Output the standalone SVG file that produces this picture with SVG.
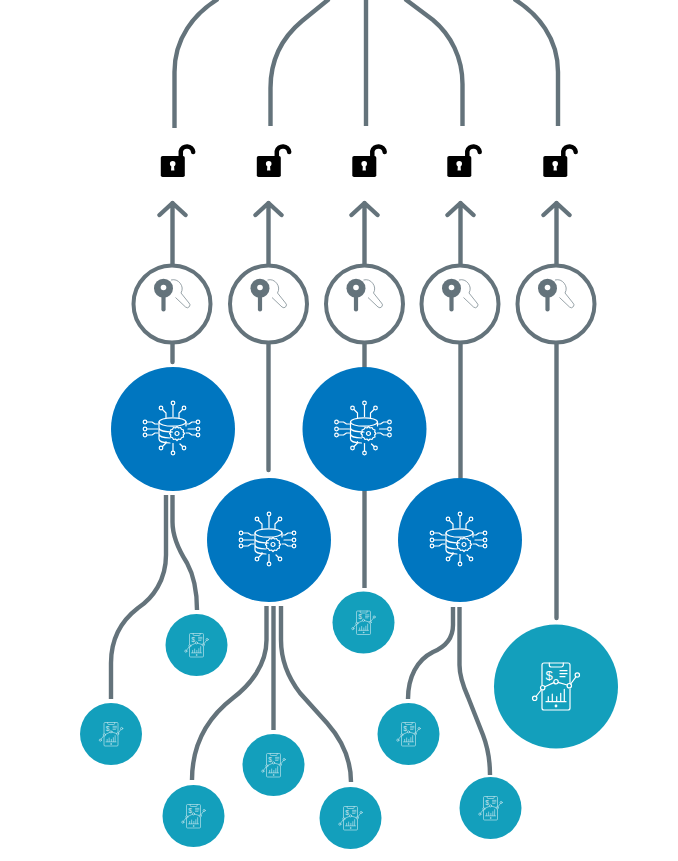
<svg xmlns="http://www.w3.org/2000/svg" width="678" height="861" viewBox="0 0 678 861">
<style>
.c{fill:none;stroke:#64737b;stroke-width:4.400}
.a{stroke-linecap:round;stroke-linejoin:round}
.key{fill:#fff;stroke:#64737b;stroke-width:4}
.blue{fill:#0076c0}
.teal{fill:#139fbc}
.ic{fill:none;stroke:#fff;stroke-width:1.200;stroke-linecap:round;stroke-linejoin:round}
.ics{fill:none;stroke:#fff;stroke-width:1.300;stroke-linecap:round;stroke-linejoin:round;opacity:.75}
.d{font-family:"Liberation Sans",Arial,sans-serif;font-size:13px;fill:#fff;text-anchor:middle;stroke:none}
</style>
<defs>
<g id="lock-i">
<rect x="160.800" y="156" width="24" height="21" rx="1.800" fill="#000"/>
<path d="M180.800 157V151.300a6.300 6.300 0 0 1 12.400 0.800" fill="none" stroke="#000" stroke-width="4.500" stroke-linecap="round"/>
<circle cx="172.700" cy="163.800" r="2.800" fill="#fff"/>
<path d="M171.500 164.500h2.400l.5 6h-3.400z" fill="#fff"/>
</g>
<g id="key-i">
<path d="M-1 -24A9 9 0 0 1 9 -11L17 -1A2.600 2.600 0 0 1 13.500 3L3.500 -6.500" fill="none" stroke="#7d8b92" stroke-width=".8"/>
<circle cx="-8.500" cy="-15.700" r="9.500" fill="#64737b"/>
<circle cx="-8.500" cy="-16.500" r="2.800" fill="#fff"/>
<path d="M-8.500 -8V5.500" stroke="#64737b" stroke-width="4.200" stroke-linecap="round" fill="none"/>
</g>
<g id="db-i" class="ic">
<ellipse cx="-.5" cy="-7" rx="13.500" ry="4.200"/>
<path d="M-14 -7V10c0 2.500 5 4 11 4M13 -7V-3M-14 -1c0 2.500 6 4 13.500 4M-14 5c0 2.500 5 4 11 4"/>
<path d="M4 -2.500l1.500 1.500 2-.5 1 1.800 2 .7-.3 2 1.300 1.500-1.300 1.500.3 2-2 .7-1 1.800-2-.5L4 11.500 2.500 10l-2 .5-1-1.800-2-.7.300-2L-3.500 4.500-2.200 3l-.3-2 2-.7 1-1.800 2 .5z"/>
<circle cx="4" cy="4.500" r="2"/>
<circle cx="0" cy="-26" r="1.800"/><path d="M0 -24V-12.500"/>
<circle cx="-12" cy="-21" r="1.800"/><path d="M-10.500 -19.500L-7 -16V-11.500"/>
<circle cx="11" cy="-21" r="1.800"/><path d="M9.500 -19.500L6 -16V-11.500"/>
<circle cx="-28" cy="-7" r="1.800"/><path d="M-26 -7H-21L-18 -5H-15"/>
<circle cx="-28" cy="0" r="1.800"/><path d="M-26 0H-15"/>
<circle cx="-28" cy="6" r="1.800"/><path d="M-26 6H-21L-18 4H-15"/>
<circle cx="25" cy="-7" r="1.800"/><path d="M23 -7H19L16 -5H14"/>
<circle cx="25" cy="0" r="1.800"/><path d="M23 0H15"/>
<circle cx="25" cy="6" r="1.800"/><path d="M23 6H19L16 4H13"/>
<circle cx="-12" cy="19" r="1.800"/><path d="M-10.500 17.500L-7 14V12.500"/>
<circle cx="0" cy="24" r="1.800"/><path d="M0 22V14.500"/>
<circle cx="11" cy="19" r="1.800"/><path d="M9.500 17.500L7 15"/>
</g>
<g id="ph-i">
<path d="M-14 -1V-21a2 2 0 0 1 2 -2H12a2 2 0 0 1 2 2V-3M14 3V22a2 2 0 0 1 -2 2H-12a2 2 0 0 1 -2 -2V4.500"/>
<path d="M-6.700 -23v2a2 2 0 0 0 2 2H5.300a2 2 0 0 0 2 -2v-2"/>
<path d="M4 -15.300H11M4 -12.300H11M4 -9.300H9"/>
<path d="M-20 10.500L-14.500 3.500M-11.200 .8L-2.100 -3.400M2.100 -3.700L11.200 -1M14.700 -2L19.900 -9.200"/>
<circle cx="-21.300" cy="12.300" r="2.200"/><circle cx="-13.300" cy="1.700" r="2.200"/><circle cx="0" cy="-4.300" r="2.200"/><circle cx="13.300" cy="-.3" r="2.200"/><circle cx="21.300" cy="-11" r="2.200"/>
<path d="M-10 15.700H10M-7.700 15V10.700M-3.700 15V8M.7 15V10.700M4.700 15V7.300M8.300 15V3.300"/>
<circle cx="0" cy="20" r=".8"/>
</g>
</defs>
<g id="connectors">
<path class="c" d="M174.500 128V72C174.500 38 194 14 218 -1"/>
<path class="c" d="M270.500 126V88C270.500 58 284 36 302 21L329 -1"/>
<path class="c" d="M366 126V-1"/>
<path class="c" d="M462.500 126V84C462.500 58 451 35 433 20L405 -1"/>
<path class="c" d="M558 126V72C558 38 538 14 514 -1"/>
<path class="c a" d="M172.500 362V203M159.500 215L172.500 203L185.500 215"/>
<path class="c a" d="M268.500 470V203M255.500 215L268.500 203L281.500 215"/>
<path class="c a" d="M364.500 370V203M351.500 215L364.500 203L377.500 215"/>
<path class="c a" d="M460.500 478V203M447.500 215L460.500 203L473.500 215"/>
<path class="c a" d="M556.500 618V203M543.500 215L556.500 203L569.500 215"/>
<path class="c" d="M364.500 490V588"/>
<path class="c" d="M166 495V555C166 580 153 598 138 608C121 621 111 640 111 663V699"/>
<path class="c" d="M172.500 495V522C172.500 538 180 552 187 563C193 574 197 588 197 610"/>
<path class="c" d="M266.500 606V640C266.500 665 250 685 233 698C207 718 192 745 192 780"/>
<path class="c" d="M273.500 606V730"/>
<path class="c" d="M281 606V640C281 662 290 680 300 693L327 723C342 740 351 760 351 782"/>
<path class="c" d="M453 607V625C453 638 445 647 433 652C417 660 408 677 408 699"/>
<path class="c" d="M459.500 607V665C459.500 676 464 688 468 697L483 735C488 748 490 760 490 775"/>
</g>
<g id="lock1"><use href="#lock-i"/></g>
<g id="lock2"><use href="#lock-i" x="96"/></g>
<g id="lock3"><use href="#lock-i" x="191.500"/></g>
<g id="lock4"><use href="#lock-i" x="286.500"/></g>
<g id="lock5"><use href="#lock-i" x="382.500"/></g>
<g id="key1"><circle class="key" cx="172" cy="304" r="38.500"/><use href="#key-i" x="172" y="304"/></g>
<g id="key2"><circle class="key" cx="268.500" cy="304" r="38.500"/><use href="#key-i" x="268.500" y="304"/></g>
<g id="key3"><circle class="key" cx="364.500" cy="304" r="38.500"/><use href="#key-i" x="364.500" y="304"/></g>
<g id="key4"><circle class="key" cx="460" cy="304" r="38.500"/><use href="#key-i" x="460" y="304"/></g>
<g id="key5"><circle class="key" cx="556" cy="304" r="38.500"/><use href="#key-i" x="556" y="304"/></g>
<g id="db1"><circle class="blue" cx="173" cy="429" r="62"/><use href="#db-i" x="173" y="429"/></g>
<g id="db2"><circle class="blue" cx="269" cy="540" r="62"/><use href="#db-i" x="269" y="540"/></g>
<g id="db3"><circle class="blue" cx="364.500" cy="429" r="62"/><use href="#db-i" x="364.500" y="429"/></g>
<g id="db4"><circle class="blue" cx="460" cy="540" r="62"/><use href="#db-i" x="460" y="540"/></g>
<g id="app-big"><circle class="teal" cx="556" cy="686.500" r="62"/><g class="ic" transform="translate(556 686)"><use href="#ph-i"/><text class="d" x="-7" y="-6.500">$</text></g></g>
<g id="app1"><circle class="teal" cx="196.500" cy="645" r="31"/><g class="ics" transform="translate(196.500 645) scale(.5)"><use href="#ph-i"/><text class="d" x="-7" y="-6.500">$</text></g></g>
<g id="app2"><circle class="teal" cx="111" cy="734" r="31"/><g class="ics" transform="translate(111 734) scale(.5)"><use href="#ph-i"/><text class="d" x="-7" y="-6.500">$</text></g></g>
<g id="app3"><circle class="teal" cx="193.500" cy="816" r="31"/><g class="ics" transform="translate(193.500 816) scale(.5)"><use href="#ph-i"/><text class="d" x="-7" y="-6.500">$</text></g></g>
<g id="app4"><circle class="teal" cx="273.500" cy="765" r="31"/><g class="ics" transform="translate(273.500 765) scale(.5)"><use href="#ph-i"/><text class="d" x="-7" y="-6.500">$</text></g></g>
<g id="app5"><circle class="teal" cx="350.500" cy="818" r="31"/><g class="ics" transform="translate(350.500 818) scale(.5)"><use href="#ph-i"/><text class="d" x="-7" y="-6.500">$</text></g></g>
<g id="app6"><circle class="teal" cx="363.500" cy="622.500" r="31"/><g class="ics" transform="translate(363.500 622.500) scale(.5)"><use href="#ph-i"/><text class="d" x="-7" y="-6.500">$</text></g></g>
<g id="app7"><circle class="teal" cx="408.500" cy="734" r="31"/><g class="ics" transform="translate(408.500 734) scale(.5)"><use href="#ph-i"/><text class="d" x="-7" y="-6.500">$</text></g></g>
<g id="app8"><circle class="teal" cx="490.500" cy="808" r="31"/><g class="ics" transform="translate(490.500 808) scale(.5)"><use href="#ph-i"/><text class="d" x="-7" y="-6.500">$</text></g></g>
</svg>
